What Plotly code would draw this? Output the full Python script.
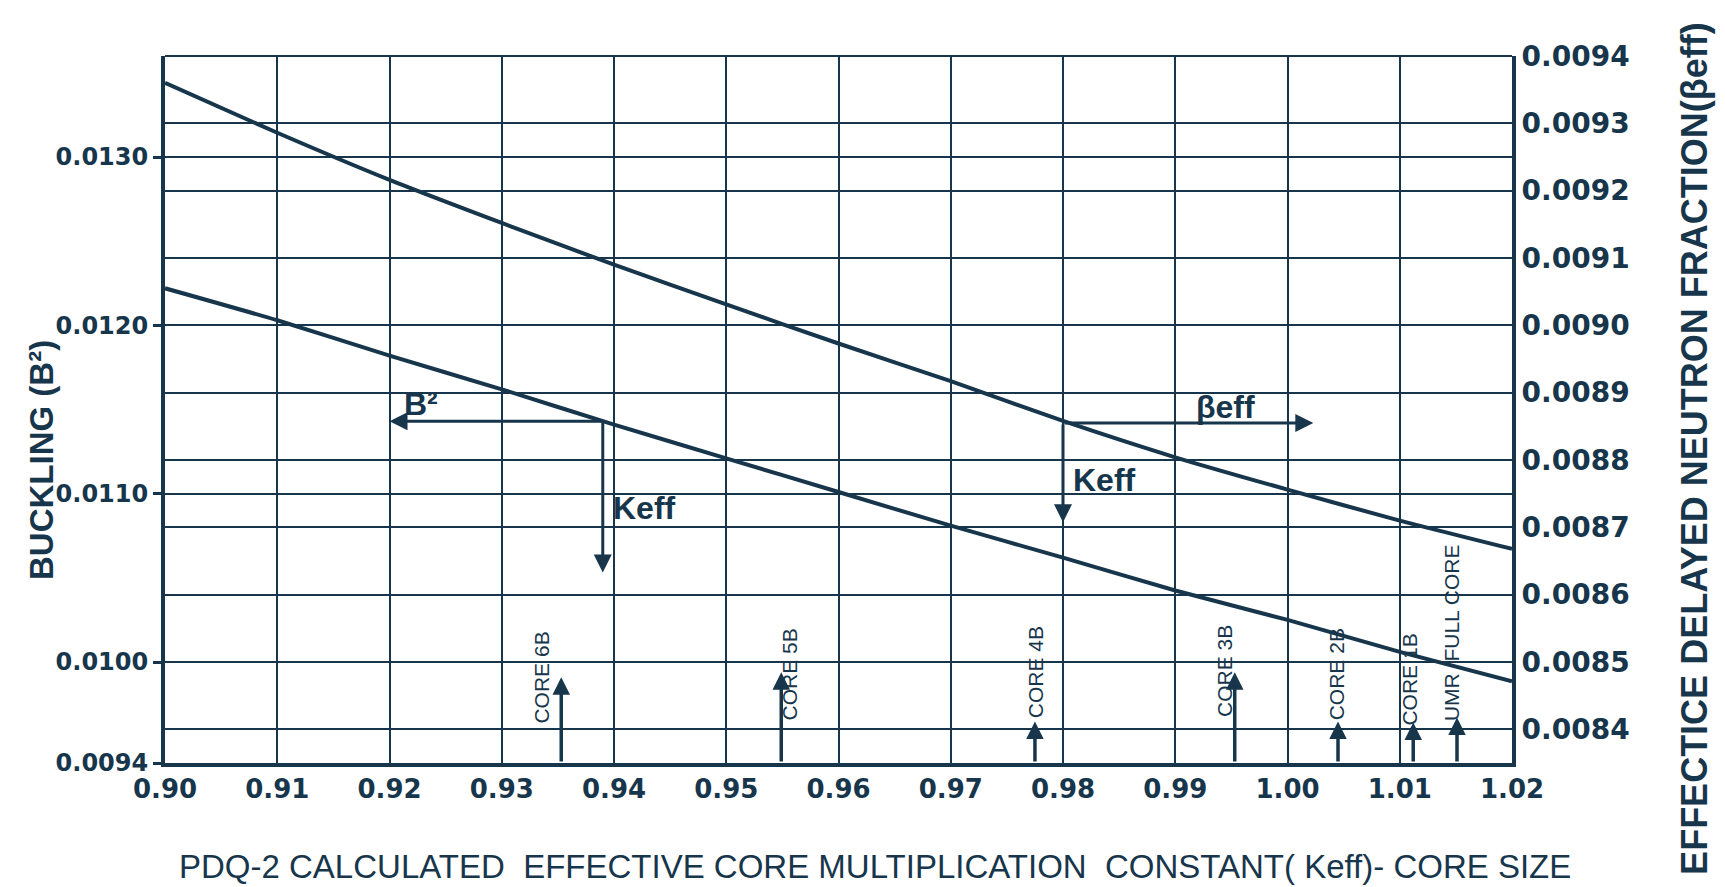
import plotly.graph_objects as go

# ---------------- data ----------------
keff = [0.90, 0.91, 0.92, 0.93, 0.94, 0.95, 0.96, 0.97, 0.98, 0.99, 1.00, 1.01, 1.02]
beta_eff = [0.00936, 0.009286, 0.009216, 0.009152, 0.009090, 0.009031, 0.008973,
            0.008917, 0.008858, 0.008804, 0.008756, 0.008710, 0.008668]
buckling = [0.01222, 0.01203, 0.01182, 0.01162, 0.01141, 0.01121, 0.01101,
            0.01081, 0.01062, 0.010425, 0.01025, 0.01006, 0.009885]

left_ticks = [0.0094, 0.0100, 0.0110, 0.0120, 0.0130]
left_ticktext = ["0.0094", "0.0100", "0.0110", "0.0120", "0.0130"]

core_names = ["CORE 6B", "CORE 5B", "CORE 4B", "CORE 3B", "CORE 2B", "CORE 1B", "UMR  FULL CORE"]
core_keff = [0.9353, 0.9549, 0.9775, 0.9953, 1.0045, 1.0112, 1.0151]
core_tip_b2 = [0.009909, 0.009939, 0.009646, 0.009939, 0.009646, 0.009640, 0.009670]
core_label_b2 = [0.009909, 0.009927, 0.009939, 0.009945, 0.009927, 0.009897, 0.010172]

# reading-guide arrows
b2_guide_keff = 0.939
b2_guide_value = 0.01143
b2_arrow_to_keff = 0.920
keff_left_arrow_to_b2 = 0.010532
beta_guide_keff = 0.98
beta_guide_value = 0.008855
beta_arrow_to_keff = 1.0023
keff_right_arrow_to_beta = 0.0087075

INK = "#17364c"

fig = go.Figure()
fig.add_trace(go.Scatter(x=keff, y=buckling, mode="lines", yaxis="y",
                         line=dict(color=INK, width=4, shape="spline", smoothing=0.6),
                         hoverinfo="skip"))
fig.add_trace(go.Scatter(x=keff, y=beta_eff, mode="lines", yaxis="y2",
                         line=dict(color=INK, width=4, shape="spline", smoothing=0.6),
                         hoverinfo="skip"))

LBL = dict(family="Liberation Sans", size=32, color=INK)
ann = []
# B2 guide (horizontal, to the left) and Keff guide (down)
ann.append(dict(x=b2_arrow_to_keff, y=b2_guide_value, xref="x", yref="y",
                ax=b2_guide_keff, ay=b2_guide_value, axref="x", ayref="y",
                text="", showarrow=True, arrowhead=2, arrowsize=1.2, arrowwidth=3, arrowcolor=INK))
ann.append(dict(x=b2_guide_keff, y=keff_left_arrow_to_b2, xref="x", yref="y",
                ax=b2_guide_keff, ay=b2_guide_value, axref="x", ayref="y",
                text="", showarrow=True, arrowhead=2, arrowsize=1.2, arrowwidth=3, arrowcolor=INK))
ann.append(dict(x=0.9228, y=0.011532, xref="x", yref="y", text="<b>B²</b>", showarrow=False,
                xanchor="center", yanchor="middle", font=LBL))
ann.append(dict(x=b2_guide_keff, y=0.010915, xref="x", yref="y", text="<b>Keff</b>", showarrow=False,
                xanchor="left", yanchor="middle", xshift=8, font=LBL))

# beta guide (horizontal, to the right) and Keff guide (down)
ann.append(dict(x=beta_arrow_to_keff, y=beta_guide_value, xref="x", yref="y2",
                ax=beta_guide_keff, ay=beta_guide_value, axref="x", ayref="y2",
                text="", showarrow=True, arrowhead=2, arrowsize=1.2, arrowwidth=3, arrowcolor=INK))
ann.append(dict(x=beta_guide_keff, y=keff_right_arrow_to_beta, xref="x", yref="y2",
                ax=beta_guide_keff, ay=beta_guide_value, axref="x", ayref="y2",
                text="", showarrow=True, arrowhead=2, arrowsize=1.2, arrowwidth=3, arrowcolor=INK))
ann.append(dict(x=0.9945, y=0.008879, xref="x", yref="y2", text="<b>βeff</b>", showarrow=False,
                xanchor="center", yanchor="middle", font=LBL))
ann.append(dict(x=beta_guide_keff, y=0.00877, xref="x", yref="y2", text="<b>Keff</b>", showarrow=False,
                xanchor="left", yanchor="middle", xshift=8, font=LBL))

# core markers
label_shift = [-20, 8, 0, -10, -2, -4, -6]
for name, kx, tip, ly, sh in zip(core_names, core_keff, core_tip_b2, core_label_b2, label_shift):
    ann.append(dict(x=kx, y=tip, xref="x", yref="y", ax=kx, ay=left_ticks[0], axref="x", ayref="y",
                    text="", showarrow=True, arrowhead=2, arrowsize=1, arrowwidth=3.5, arrowcolor=INK))
    ann.append(dict(x=kx, y=ly, xref="x", yref="y", text=name, showarrow=False, textangle=-90,
                    xanchor="center", yanchor="middle", xshift=sh,
                    font=dict(family="Liberation Sans", size=21, color=INK)))

# axis titles
ann.append(dict(x=-0.0913, y=0.4286, xref="paper", yref="paper", text="<b>BUCKLING (B²)</b>",
                showarrow=False, textangle=-90, xanchor="center", yanchor="middle",
                font=dict(family="Liberation Sans", size=33, color=INK)))
ann.append(dict(x=1.135, y=0.4455, xref="paper", yref="paper",
                text="<b>EFFECTICE DELAYED NEUTRON FRACTION(βeff)</b>",
                showarrow=False, textangle=-90, xanchor="center", yanchor="middle",
                font=dict(family="Liberation Sans", size=36, color=INK)))
ann.append(dict(x=0.527, y=-0.1457, xref="paper", yref="paper",
                text="PDQ-2 CALCULATED  EFFECTIVE CORE MULTIPLICATION  CONSTANT( Keff)- CORE SIZE",
                showarrow=False, xanchor="center", yanchor="middle",
                font=dict(family="Liberation Sans", size=33, color=INK)))

fig.update_layout(
    width=1717, height=879,
    margin=dict(l=157, r=213, t=48, b=124),
    plot_bgcolor="white", paper_bgcolor="white",
    showlegend=False,
    annotations=ann,
    xaxis=dict(range=[0.90, 1.02], tick0=0.90, dtick=0.01, tickformat=".2f",
               showgrid=True, gridcolor=INK, gridwidth=2, zeroline=False,
               showline=True, linecolor=INK, linewidth=4, ticks="",
               tickfont=dict(family="DejaVu Sans", size=26, color=INK, weight="bold")),
    yaxis=dict(range=[0.0094, 0.0136], tickvals=left_ticks, ticktext=left_ticktext,
               showgrid=True, gridcolor=INK, gridwidth=2, zeroline=False,
               showline=True, linecolor=INK, linewidth=4, ticks="outside", ticklen=8,
               tickwidth=3, tickcolor=INK,
               tickfont=dict(family="DejaVu Sans", size=24, color=INK, weight="bold")),
    yaxis2=dict(range=[0.00835, 0.0094], overlaying="y", side="right", tick0=0.0084, dtick=0.0001,
                tickformat=".4f", showgrid=True, gridcolor=INK, gridwidth=2, zeroline=False,
                showline=True, linecolor=INK, linewidth=4, ticks="",
                tickfont=dict(family="DejaVu Sans", size=28, color=INK, weight="bold")),
    shapes=[dict(type="line", xref="paper", yref="paper", x0=0, x1=1, y0=1, y1=1,
                 line=dict(color=INK, width=2))],
)

fig.write_html("out.html")
